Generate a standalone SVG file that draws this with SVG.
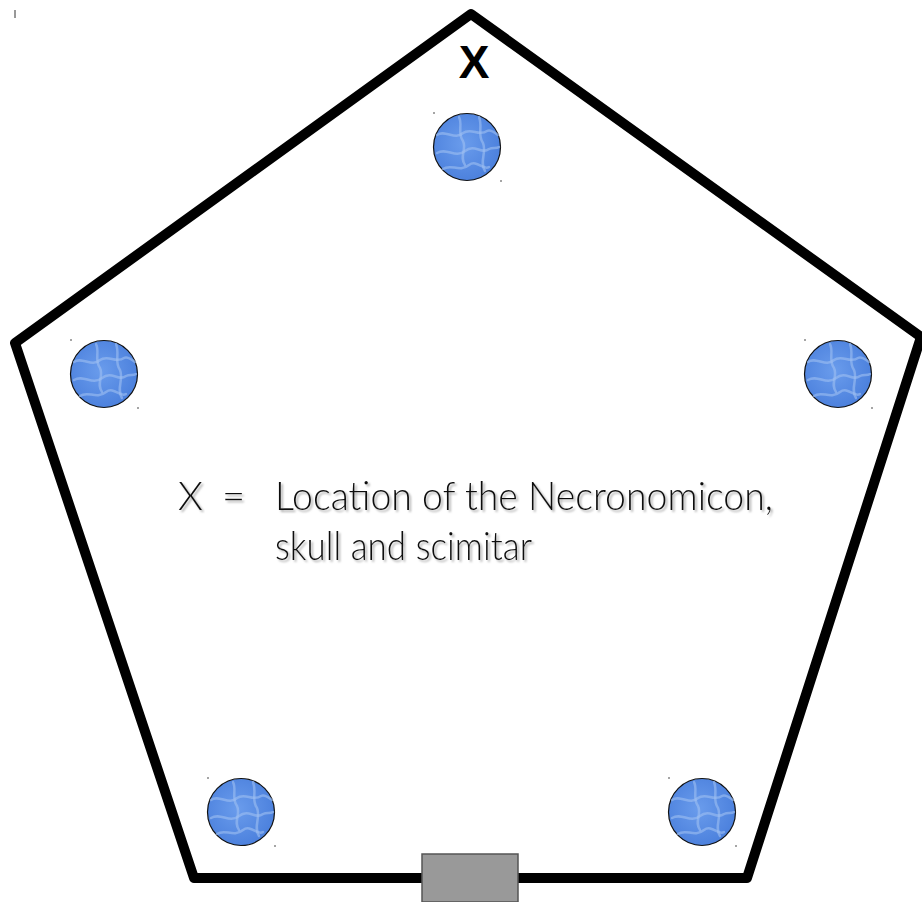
<svg xmlns="http://www.w3.org/2000/svg" width="922" height="902" viewBox="0 0 922 902">
<defs>
<style>
.wall{fill:none;stroke:#000;stroke-width:10;stroke-linejoin:round}
.pool{fill:url(#water);stroke:#111;stroke-width:1.2}
.ripple{fill:none;stroke:#9fc0f2;stroke-width:2.5;stroke-linecap:round;opacity:0.6;filter:url(#soft)}
.lbl{font-family:"Lato","Liberation Sans",sans-serif;font-size:40px;font-weight:300;fill:#111;filter:url(#shadow)}
.dot{fill:#333}
</style>
<filter id="shadow" x="-5%" y="-20%" width="110%" height="140%">
<feDropShadow dx="2" dy="2" stdDeviation="0.8" flood-color="#999" flood-opacity="0.8"/>
</filter>
<filter id="soft"><feGaussianBlur stdDeviation="0.7"/></filter>
<radialGradient id="water" cx="0.45" cy="0.45" r="0.6">
<stop offset="0" stop-color="#6a9cec"/>
<stop offset="1" stop-color="#4a7fdc"/>
</radialGradient>
<g id="pool">
<circle class="pool" cx="0" cy="0" r="33.5"/>
<path class="ripple" d="M-30,-12 C-22,-18 -12,-6 -4,-14 C4,-20 12,-10 20,-16 C24,-18 28,-14 31,-12"/>
<path class="ripple" d="M-30,6 C-20,0 -12,12 -2,4 C8,-4 14,8 22,2 C26,0 29,2 32,0"/>
<path class="ripple" d="M-8,-30 C-4,-22 -10,-14 -4,-6 C0,2 -8,10 -2,18"/>
<path class="ripple" d="M12,-30 C16,-20 10,-12 16,-4 C20,6 12,14 18,24"/>
<path class="ripple" d="M-24,22 C-16,16 -8,26 2,18 C10,12 16,24 22,20"/>
<circle class="dot" cx="-33" cy="-34" r="0.8"/>
<circle class="dot" cx="34" cy="34" r="0.8"/>
</g>
</defs>
<rect width="922" height="902" fill="#fff"/>
<line x1="15" y1="10" x2="15" y2="18" stroke="#333" stroke-width="1"/>
<g id="walls">
<polygon class="wall" points="471,14 921,337 747,878 194,878 15,343"/>
</g>
<g id="door">
<rect x="422" y="854" width="96" height="48" fill="#999" stroke="#555" stroke-width="1.5"/>
</g>
<g id="marker-x">
<text x="474" y="78" text-anchor="middle" font-family="Liberation Sans, sans-serif" font-weight="bold" font-size="46" fill="#000">X</text>
</g>
<g id="pool-top"><use href="#pool" x="467" y="147"/></g>
<g id="pool-left"><use href="#pool" x="104" y="374"/></g>
<g id="pool-right"><use href="#pool" x="838" y="374"/></g>
<g id="pool-bottom-left"><use href="#pool" x="241" y="812"/></g>
<g id="pool-bottom-right"><use href="#pool" x="702" y="812"/></g>
<g id="legend">
<text class="lbl" x="178" y="510">X</text>
<text class="lbl" x="222" y="510">=</text>
<text class="lbl" x="275" y="510" textLength="498" lengthAdjust="spacingAndGlyphs">Location of the Necronomicon,</text>
<text class="lbl" x="275" y="560" textLength="257" lengthAdjust="spacingAndGlyphs">skull and scimitar</text>
</g>
</svg>
